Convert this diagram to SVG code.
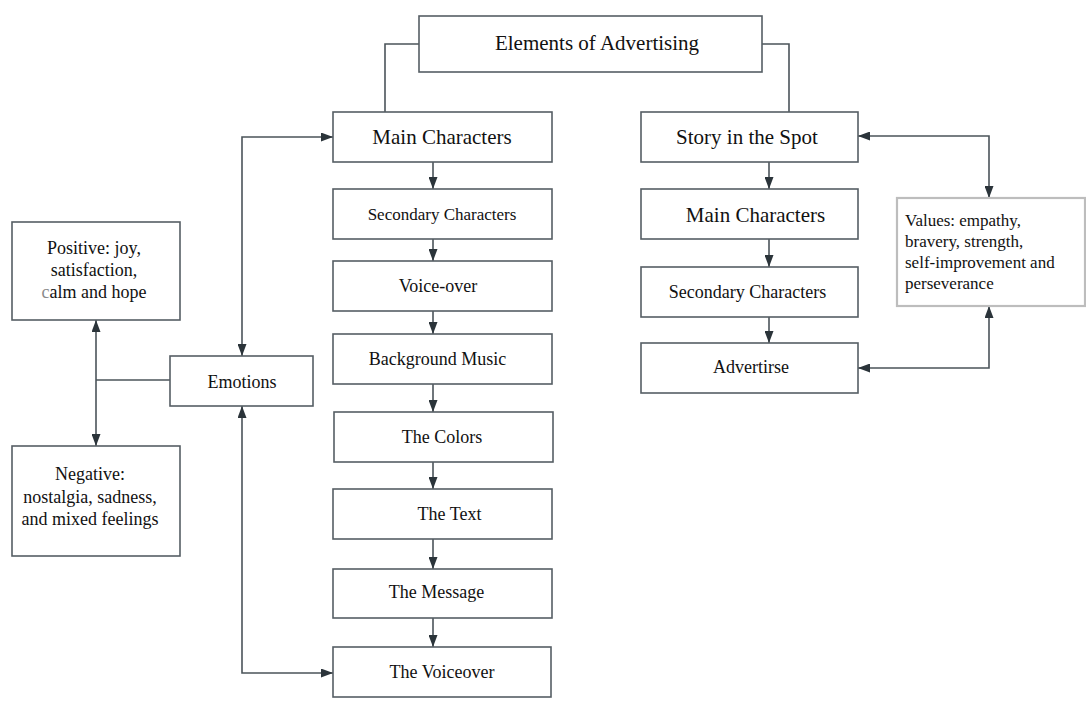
<svg xmlns="http://www.w3.org/2000/svg" width="1086" height="719" viewBox="0 0 1086 719">
<defs>
<marker id="ah" viewBox="0 0 12 9" refX="12" refY="4.5" markerWidth="12" markerHeight="9" markerUnits="userSpaceOnUse" orient="auto-start-reverse">
<path d="M0,0 L12,4.5 L0,9 z" fill="#2b343a"/>
</marker>
</defs>
<style>
.box{fill:#ffffff;stroke:#565e64;stroke-width:1.6}
.gbox{fill:#ffffff;stroke:#bdbdbd;stroke-width:2.2}
.t{font-family:"Liberation Serif","Times New Roman",serif;fill:#111111;text-anchor:middle}
.tl{font-family:"Liberation Serif","Times New Roman",serif;fill:#111111;text-anchor:start}
.c{fill:none;stroke:#4b545a;stroke-width:1.6}
.a{marker-end:url(#ah)}
.aa{marker-start:url(#ah);marker-end:url(#ah)}
</style>
<rect width="1086" height="719" fill="#ffffff"/>
<g id="connectors">
<path class="c" d="M419,44 H385 V112"/>
<path class="c" d="M762,44 H789 V112"/>
<path class="c a" d="M433,162 V189"/>
<path class="c a" d="M433,239 V261"/>
<path class="c a" d="M433,311 V334"/>
<path class="c a" d="M433,384 V412"/>
<path class="c a" d="M433,462 V489"/>
<path class="c a" d="M433,539 V569"/>
<path class="c a" d="M433,618 V647"/>
<path class="c a" d="M769,162 V189"/>
<path class="c a" d="M769,239 V267"/>
<path class="c a" d="M769,317 V343"/>
<path class="c aa" d="M333,137 H242 V356"/>
<path class="c aa" d="M242,406 V673 H333"/>
<path class="c" d="M170,380 H96"/>
<path class="c aa" d="M96,320 V446"/>
<path class="c aa" d="M858,136 H989 V198"/>
<path class="c aa" d="M989,306 V368 H858"/>
</g>
<g id="elements">
<rect class="box" x="419" y="16" width="343" height="56"/>
<text class="t" x="597" y="50" font-size="21">Elements of Advertising</text>
</g>
<g id="main-characters-left">
<rect class="box" x="333" y="112" width="219" height="50"/>
<text class="t" x="442" y="144" font-size="21">Main Characters</text>
</g>
<g id="secondary-characters-left">
<rect class="box" x="333" y="189" width="219" height="50"/>
<text class="t" x="442" y="219.5" font-size="17">Secondary Characters</text>
</g>
<g id="voice-over">
<rect class="box" x="333" y="261" width="219" height="50"/>
<text class="t" x="438" y="292" font-size="18">Voice-over</text>
</g>
<g id="background-music">
<rect class="box" x="333" y="334" width="219" height="50"/>
<text class="t" x="437.5" y="365" font-size="18">Background Music</text>
</g>
<g id="the-colors">
<rect class="box" x="334" y="412" width="219" height="50"/>
<text class="t" x="442" y="443" font-size="18">The Colors</text>
</g>
<g id="the-text">
<rect class="box" x="333" y="489" width="219" height="50"/>
<text class="t" x="449.5" y="520" font-size="18">The Text</text>
</g>
<g id="the-message">
<rect class="box" x="333" y="569" width="219" height="49"/>
<text class="t" x="436.5" y="598" font-size="18">The Message</text>
</g>
<g id="the-voiceover">
<rect class="box" x="333" y="647" width="218" height="50"/>
<text class="t" x="442" y="678" font-size="18">The Voiceover</text>
</g>
<g id="emotions">
<rect class="box" x="170" y="356" width="143" height="50"/>
<text class="t" x="242" y="387.5" font-size="18">Emotions</text>
</g>
<g id="positive">
<rect class="box" x="12" y="222" width="168" height="98"/>
<text class="t" x="94" y="254" font-size="18">Positive: joy,</text>
<text class="t" x="94" y="276" font-size="18">satisfaction,</text>
<text class="t" x="94" y="298" font-size="18"><tspan fill="#8a8a8a">c</tspan>alm and hope</text>
</g>
<g id="negative">
<rect class="box" x="12" y="446" width="168" height="110"/>
<text class="t" x="90" y="480" font-size="18">Negative:</text>
<text class="t" x="90" y="503" font-size="18">nostalgia, sadness,</text>
<text class="t" x="90" y="525" font-size="18">and mixed feelings</text>
</g>
<g id="story-in-the-spot">
<rect class="box" x="641" y="112" width="217" height="50"/>
<text class="t" x="747" y="144" font-size="21">Story in the Spot</text>
</g>
<g id="main-characters-right">
<rect class="box" x="641" y="189" width="217" height="50"/>
<text class="t" x="755.5" y="222" font-size="21">Main Characters</text>
</g>
<g id="secondary-characters-right">
<rect class="box" x="641" y="267" width="217" height="50"/>
<text class="t" x="747.5" y="298" font-size="18">Secondary Characters</text>
</g>
<g id="advertirse">
<rect class="box" x="641" y="343" width="217" height="50"/>
<text class="t" x="751" y="373" font-size="18">Advertirse</text>
</g>
<g id="values">
<rect class="gbox" x="897" y="198" width="188" height="108"/>
<text class="tl" x="905" y="226" font-size="17">Values: empathy,</text>
<text class="tl" x="905" y="247" font-size="17">bravery, strength,</text>
<text class="tl" x="905" y="268" font-size="17">self-improvement and</text>
<text class="tl" x="905" y="289" font-size="17">perseverance</text>
</g>
</svg>
